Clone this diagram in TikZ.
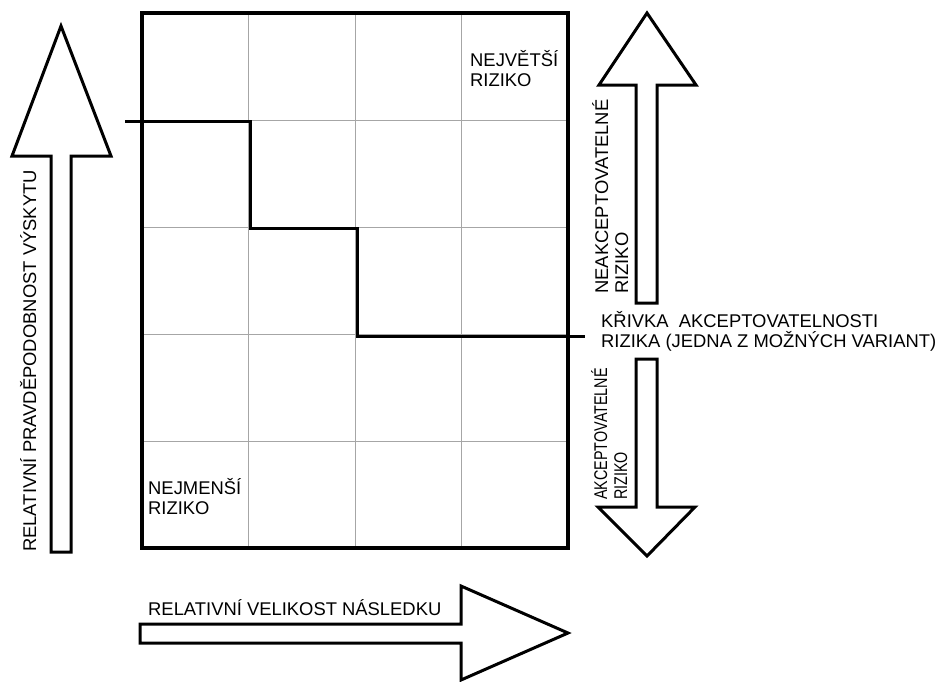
\documentclass[tikz,border=0pt]{standalone}
\usepackage{fontspec}
\setmainfont{Liberation Sans}
\usepackage{graphicx}
\usetikzlibrary{positioning}

\tikzset{
  lbl/.style={inner sep=0pt, align=left, font=\fontsize{18.4}{20}\selectfont},
  outline/.style={draw=black, line width=3pt, line join=miter},
  gridline/.style={draw=black!35, line width=0.9pt},
}

\begin{document}
\begin{tikzpicture}[x=1pt, y=-1pt]
\useasboundingbox (0,0) rectangle (941,681);

% grid
\foreach \c in {1,2,3} \draw[gridline] (142+\c*106.5, 13) -- (142+\c*106.5, 548);
\foreach \r in {1,2,3,4} \draw[gridline] (142, 13+\r*107) -- (568, 13+\r*107);
\draw[line width=3.5pt] (142,13) rectangle (568,548);

% acceptability curve
\coordinate (c0) at (125,121);
\coordinate (c1) at (585,336);
\draw[line width=3pt] (c0) -- (250,121) -- (250,228) -- (357,228) -- (357,336) -- (c1);

% big arrows
\draw[outline] (51,552) -- (51,156) -- (12,156) -- (61,26) -- (111,156) -- (71,156) -- (71,552) -- cycle;
\draw[outline] (636,303) -- (636,85) -- (599,85) -- (647,13) -- (696,85) -- (657,85) -- (657,303) -- cycle;
\draw[outline] (636,359) -- (636,507) -- (598,507) -- (647,556) -- (695,507) -- (657,507) -- (657,359) -- cycle;
\draw[outline] (140,624) -- (461,624) -- (461,586) -- (568,633) -- (461,680) -- (461,643) -- (140,643) -- cycle;

% labels (base = last line)
\node[lbl, rotate=90, anchor=base west] (yaxis) at (36,552) {RELATIVNÍ PRAVDĚPODOBNOST VÝSKYTU};
\node[lbl, anchor=base west] (xaxis) at (148,615) {RELATIVNÍ VELIKOST NÁSLEDKU};
\node[lbl, anchor=base west] (maxrisk) at (470,86) {NEJVĚTŠÍ\\RIZIKO};
\node[lbl, anchor=base west] (minrisk) at (148,514) {NEJMENŠÍ\\RIZIKO};
\node[lbl, anchor=base west] (curve) at (601,347) {KŘIVKA\ \ AKCEPTOVATELNOSTI\\RIZIKA (JEDNA Z MOŽNÝCH VARIANT)};
\node[lbl, rotate=90, anchor=base west] (unacc) at (628,294) {NEAKCEPTOVATELNÉ\\RIZIKO};
\node[lbl, rotate=90, anchor=base west] (acc) at (627,500) {\scalebox{0.78}[1]{AKCEPTOVATELNÉ}\\\scalebox{0.78}[1]{RIZIKO}};

\end{tikzpicture}
\end{document}
